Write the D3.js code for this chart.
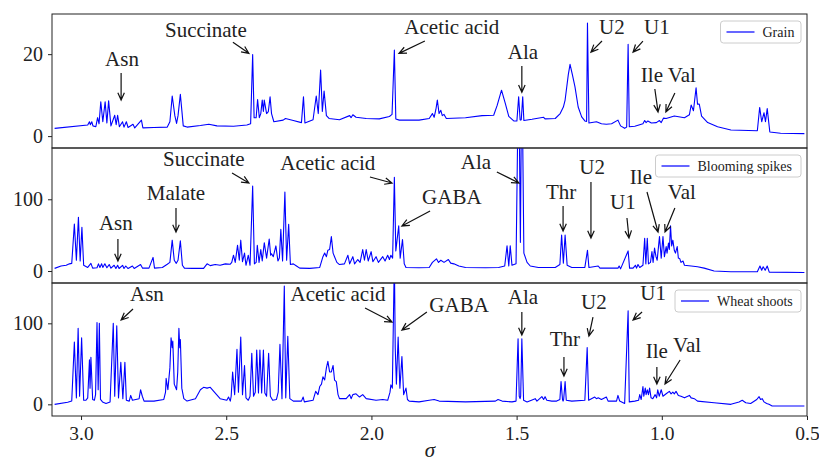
<!DOCTYPE html>
<html>
<head>
<meta charset="utf-8">
<title>NMR spectra</title>
<script src="https://d3js.org/d3.v7.min.js"></script>
<style>
  body { margin: 0; background: #fff; }
  svg { font-family: "Liberation Serif", "DejaVu Serif", serif; }
  .spine { fill: none; stroke: #222; stroke-width: 1; }
  .tick text { font-size: 20px; fill: #222; }
  .xax .tick text { font-size: 19.5px; }
  .tick line { stroke: #222; }
  .spec { fill: none; stroke: #0000ff; stroke-width: 1.1; stroke-linejoin: round; }
  .ann text { font-size: 21px; fill: #222; }
  .ann path { fill: none; stroke: #111; stroke-width: 1.2; }
  .legend rect { fill: #fff; fill-opacity: 0.85; stroke: #ccc; }
  .legend text { font-size: 14px; fill: #222; }
</style>
</head>
<body>
<script>

// chemical shift range (reversed axis) and tick labels
var shiftRange = [3.1, 0.5];
var xTicks = [3.0, 2.5, 2.0, 1.5, 1.0, 0.5];

// series names
var seriesNames = ["Grain", "Blooming spikes", "Wheat shoots"];

// y ranges and ticks for each panel
var grainRange = [-2.9, 29.8], grainTicks = [0, 20];
var bloomRange = [-16.7, 171.5], bloomTicks = [0, 100];
var shootRange = [-14.4, 149.8], shootTicks = [0, 100];

// spectra, [shift, intensity]
var grain = [
  [3.091,1.9],[2.977,2.7],[2.971,3.5],[2.968,2.8],[2.963,3.5],[2.959,2.5],[2.949,2.3],[2.943,4.5],[2.938,3.0],
  [2.932,8.4],[2.925,3.5],[2.917,8.4],[2.911,3.2],[2.905,8.6],[2.897,2.5],[2.884,5.1],[2.879,2.8],[2.874,5.1],
  [2.868,2.3],[2.857,3.5],[2.852,2.2],[2.844,3.5],[2.838,2.1],[2.821,2.9],[2.815,2.0],[2.792,3.9],[2.787,2.0],
  [2.749,2.1],[2.703,2.2],[2.694,3.5],[2.686,9.8],[2.677,5],[2.671,3.1],[2.666,5],[2.658,10.2],[2.648,2.5],
  [2.635,2.2],[2.589,2.6],[2.560,2.9],[2.532,2.5],[2.475,2.4],[2.429,2.7],[2.416,3.0],[2.409,19.9],[2.404,4.5],
  [2.397,4.5],[2.392,8.9],[2.386,4.5],[2.381,5.5],[2.376,8.8],[2.372,6],[2.369,8.8],[2.361,5.5],[2.355,6],
  [2.349,9.6],[2.344,5.5],[2.336,3.5],[2.304,3.9],[2.296,4.3],[2.269,3.8],[2.241,3.3],[2.234,9.6],[2.229,3.2],
  [2.201,4.0],[2.190,9.8],[2.183,5.5],[2.175,16.1],[2.169,6],[2.163,11],[2.155,5],[2.146,4.3],[2.110,4.0],
  [2.075,5.0],[2.070,4.5],[2.064,5.2],[2.053,4.6],[2.018,4.3],[1.973,4.2],[1.938,4.8],[1.929,5.3],[1.921,21],
  [1.916,4.2],[1.904,3.9],[1.836,3.9],[1.801,4.3],[1.790,5.5],[1.784,4.6],[1.778,6.5],[1.773,8.8],[1.767,5.5],
  [1.761,6.3],[1.756,5],[1.750,5.3],[1.742,4.3],[1.676,4.5],[1.619,5.0],[1.579,5.1],[1.567,7.5],[1.552,11.2],
  [1.539,8.0],[1.527,4.8],[1.510,3.7],[1.499,3.7],[1.493,9.6],[1.488,4],[1.486,3.9],[1.484,4],[1.479,9.6],
  [1.475,3.8],[1.447,4.1],[1.407,4.6],[1.402,4.2],[1.367,4.3],[1.350,5.5],[1.339,7.1],[1.333,8.8],[1.322,15],
  [1.316,17.5],[1.308,15],[1.299,12],[1.288,7.1],[1.276,4.7],[1.265,3.7],[1.259,3.6],[1.256,27.6],[1.251,3.2],
  [1.225,3.5],[1.208,3.0],[1.191,2.9],[1.173,3.0],[1.151,3.9],[1.142,2.5],[1.128,1.9],[1.121,2.2],[1.116,22.4],
  [1.112,2.3],[1.093,2.4],[1.065,3.0],[1.059,3.8],[1.054,3.3],[1.048,3.7],[1.036,3.2],[1.019,3.3],[1.008,3.8],
  [1.002,3.3],[0.994,4.4],[0.985,4.3],[0.957,4.9],[0.922,4.5],[0.905,5.2],[0.899,7.6],[0.891,6.2],[0.882,11.8],
  [0.877,7.8],[0.871,7.8],[0.863,4.9],[0.842,3.3],[0.808,2.3],[0.762,1.5],[0.671,1.3],[0.663,7.0],[0.656,3.5],
  [0.648,5.7],[0.643,3.5],[0.637,6.7],[0.628,1.0],[0.591,0.7],[0.509,0.6]
];

var blooming = [
  [3.091,3.7],[3.069,7],[3.051,8],[3.040,10],[3.032,10.7],[3.023,65.5],[3.016,15],[3.009,74.8],[3.003,14],
  [2.997,60.9],[2.991,8],[2.977,5],[2.966,10.7],[2.960,4],[2.945,4.5],[2.940,10],[2.935,5],[2.929,10],[2.925,5],
  [2.918,10],[2.911,4.5],[2.903,9],[2.897,4],[2.886,8],[2.880,3.5],[2.874,8],[2.869,3.5],[2.857,8],[2.852,3.5],
  [2.846,7],[2.838,3.5],[2.823,7],[2.817,3.5],[2.795,9],[2.788,4],[2.766,4],[2.752,19],[2.747,4],[2.720,5],
  [2.703,9.5],[2.694,12],[2.686,43],[2.679,15],[2.672,10.7],[2.666,15],[2.658,42],[2.651,8],[2.644,4],[2.618,3.7],
  [2.578,3.7],[2.566,10],[2.555,7.5],[2.538,9],[2.521,8],[2.503,10],[2.486,9.5],[2.481,12],[2.475,22],[2.469,12],
  [2.461,36],[2.455,15],[2.450,43],[2.444,13],[2.437,25],[2.432,8],[2.424,22],[2.418,8],[2.409,118.5],[2.403,10],
  [2.397,12],[2.393,36],[2.387,12],[2.381,30],[2.376,14],[2.369,39.5],[2.361,18],[2.352,44.6],[2.347,22],
  [2.344,24],[2.338,20],[2.329,35],[2.322,14],[2.317,18],[2.312,58],[2.306,14],[2.298,110],[2.292,15],[2.285,65],
  [2.279,9],[2.269,10],[2.258,7],[2.247,4],[2.212,3.7],[2.178,5],[2.167,20],[2.161,25],[2.155,20],[2.150,29],
  [2.144,30],[2.138,48],[2.132,25],[2.127,20],[2.119,12],[2.110,9],[2.093,10],[2.081,22],[2.075,10],[2.064,20],
  [2.058,10],[2.047,16],[2.039,12],[2.030,30],[2.024,15],[2.018,30],[2.011,14],[2.001,27],[1.995,13],[1.984,20],
  [1.976,12],[1.961,20],[1.953,14],[1.944,22],[1.938,16],[1.933,22],[1.927,18],[1.921,130.6],[1.916,28],
  [1.906,63],[1.901,18],[1.893,44],[1.887,10],[1.881,5],[1.836,4.6],[1.801,5],[1.790,12],[1.776,17],[1.769,12],
  [1.761,15],[1.750,12],[1.735,16],[1.727,11],[1.716,10],[1.699,7],[1.676,5],[1.607,4.5],[1.562,5],[1.541,7],
  [1.533,35],[1.527,7],[1.522,35],[1.516,8],[1.502,10],[1.493,300],[1.487,40],[1.482,300],[1.475,25],[1.464,12],
  [1.453,7],[1.425,5],[1.367,5],[1.351,9],[1.345,50],[1.339,11],[1.333,50],[1.326,8],[1.310,5],[1.265,5],
  [1.256,29],[1.251,5],[1.219,7],[1.213,4],[1.151,4],[1.147,7],[1.142,3],[1.116,28],[1.111,4],[1.099,4],
  [1.091,8],[1.087,4],[1.082,9],[1.076,5],[1.065,8],[1.059,45.6],[1.055,10],[1.050,45.6],[1.046,10],[1.039,12],
  [1.034,27],[1.030,12],[1.025,32],[1.020,20],[1.016,15],[1.008,48],[1.002,18],[0.996,48],[0.991,20],[0.985,34],
  [0.982,25],[0.977,39],[0.974,30],[0.970,63],[0.966,35],[0.962,43],[0.957,29],[0.953,25],[0.947,34],[0.943,18],
  [0.938,17],[0.934,12],[0.927,14],[0.922,8],[0.899,7],[0.877,6],[0.854,4],[0.820,0],[0.762,-1],[0.671,-1],
  [0.662,7],[0.656,1],[0.651,6],[0.644,1],[0.637,7],[0.630,-1.5],[0.509,-2]
];

var shoots = [
  [3.091,0],[3.046,2.5],[3.032,4],[3.023,77],[3.016,8],[3.010,94],[3.005,10],[2.998,82],[2.991,5],[2.983,5],
  [2.977,8],[2.971,55],[2.969,20],[2.966,58],[2.960,6],[2.954,5],[2.950,12],[2.945,101],[2.941,18],[2.937,100],
  [2.933,6],[2.926,3],[2.914,1],[2.900,3],[2.889,100],[2.884,10],[2.877,97],[2.871,8],[2.863,52],[2.856,7],
  [2.849,52],[2.844,5],[2.834,4],[2.829,11],[2.823,5],[2.800,7],[2.795,18],[2.789,10],[2.783,4],[2.749,4],
  [2.715,6],[2.709,15],[2.707,32],[2.701,18],[2.694,45],[2.690,82],[2.686,70],[2.684,78],[2.679,25],[2.671,18],
  [2.667,40],[2.663,94],[2.660,70],[2.658,80],[2.653,20],[2.646,7],[2.635,4],[2.606,7],[2.589,18],[2.578,21],
  [2.566,20],[2.555,21],[2.543,16],[2.521,7],[2.498,5],[2.492,9],[2.486,4],[2.483,10],[2.478,40],[2.471,12],
  [2.463,68],[2.458,15],[2.450,83],[2.444,12],[2.437,48],[2.432,8],[2.424,5],[2.418,10],[2.412,63],[2.406,10],
  [2.400,15],[2.395,67],[2.389,14],[2.384,67],[2.378,14],[2.372,67],[2.367,14],[2.361,10],[2.354,63],[2.348,10],
  [2.340,5],[2.327,6],[2.321,15],[2.315,74],[2.308,7],[2.300,146],[2.295,8],[2.288,84],[2.281,7],[2.269,4],
  [2.241,4],[2.235,9],[2.231,3],[2.201,5],[2.192,16],[2.184,12],[2.178,22],[2.172,25],[2.167,34],[2.161,30],
  [2.155,45],[2.150,53],[2.144,40],[2.138,40],[2.132,48],[2.127,30],[2.121,28],[2.115,12],[2.110,7],[2.087,7],
  [2.075,12],[2.070,7],[2.064,12],[2.053,13],[2.041,9],[2.030,12],[2.018,7],[1.984,5],[1.961,6],[1.944,5],
  [1.936,15],[1.933,24],[1.928,20],[1.921,180],[1.918,70],[1.914,25],[1.908,83],[1.902,20],[1.895,59],
  [1.889,12],[1.881,20],[1.876,6],[1.870,4],[1.836,3],[1.801,5],[1.784,6],[1.767,4],[1.676,3],[1.573,4],
  [1.564,6],[1.550,4],[1.516,3],[1.502,4],[1.495,81],[1.491,10],[1.488,7],[1.486,10],[1.482,81],[1.476,5],
  [1.464,3],[1.436,7],[1.430,4],[1.413,9.5],[1.407,6],[1.402,9.5],[1.396,5],[1.379,4],[1.362,4],[1.351,6],
  [1.347,28],[1.342,6],[1.340,4],[1.338,6],[1.333,28],[1.329,5],[1.310,4],[1.265,5],[1.257,70],[1.252,5],
  [1.231,9],[1.225,7],[1.219,8],[1.208,6],[1.191,9],[1.185,4],[1.156,4],[1.151,11],[1.145,4],[1.128,1],
  [1.116,115.6],[1.112,3],[1.093,4],[1.080,5],[1.076,12],[1.071,6],[1.065,22],[1.062,10],[1.057,20],[1.054,12],
  [1.050,18],[1.046,12],[1.042,20],[1.037,8],[1.031,7],[1.023,12],[1.018,8],[1.014,18],[1.009,10],[1.002,18],
  [0.996,10],[0.985,13],[0.974,16],[0.968,13],[0.962,15],[0.957,13],[0.951,16],[0.943,11],[0.934,10],[0.922,8],
  [0.905,11],[0.899,8],[0.888,7],[0.877,4],[0.820,2],[0.762,0],[0.734,3],[0.723,5],[0.711,2],[0.694,1],
  [0.673,6],[0.665,9.5],[0.660,6],[0.654,7],[0.648,3],[0.639,1],[0.631,0],[0.620,-2],[0.509,-2]
];

// annotations: label, text centre [shift, value], arrow start, arrow tip
var grainNotes = [
  ["Asn", [2.859, 19.0], [2.862, 15.4], [2.862, 8.8]],
  ["Succinate", [2.570, 26.1], [2.477, 22.9], [2.422, 20.2]],
  ["Acetic acid", [1.723, 26.8], [1.816, 23.2], [1.905, 20.2]],
  ["Ala", [1.478, 20.5], [1.482, 17.1], [1.482, 10.7]],
  ["U2", [1.172, 26.6], [1.206, 23.2], [1.244, 20.5]],
  ["U1", [1.017, 26.8], [1.065, 23.2], [1.099, 20.5]],
  ["Ile", [1.034, 14.9], [1.024, 11.5], [1.013, 5.9]],
  ["Val", [0.931, 14.9], [0.955, 10.5], [0.986, 5.9]]
];
var bloomNotes = [
  ["Asn", [2.880, 67.0], [2.873, 44.6], [2.873, 13.9]],
  ["Malate", [2.673, 108.8], [2.673, 87.9], [2.673, 54.4]],
  ["Succinate", [2.577, 156.2], [2.480, 136.7], [2.422, 122.7]],
  ["Acetic acid", [2.150, 150.6], [2.005, 131.1], [1.929, 122.7]],
  ["GABA", [1.723, 103.2], [1.798, 83.7], [1.895, 62.8]],
  ["Ala", [1.640, 152.0], [1.568, 138.1], [1.492, 122.7]],
  ["Thr", [1.347, 110.2], [1.340, 90.7], [1.340, 55.8]],
  ["U2", [1.240, 145.0], [1.244, 124.1], [1.244, 46.0]],
  ["U1", [1.134, 96.2], [1.120, 73.9], [1.113, 46.0]],
  ["Ile", [1.072, 131.1], [1.051, 110.2], [1.013, 54.4]],
  ["Val", [0.931, 110.2], [0.955, 87.9], [0.989, 54.4]]
];
var shootNotes = [
  ["Asn", [2.773, 136.2], [2.821, 117.7], [2.862, 104.1]],
  ["Acetic acid", [2.115, 136.2], [2.022, 118.9], [1.929, 101.6]],
  ["GABA", [1.698, 122.6], [1.809, 114.0], [1.895, 91.7]],
  ["Ala", [1.478, 132.5], [1.482, 114.0], [1.482, 85.6]],
  ["Thr", [1.334, 80.6], [1.337, 58.4], [1.337, 34.9]],
  ["U2", [1.234, 126.3], [1.237, 107.8], [1.251, 84.3]],
  ["U1", [1.030, 137.4], [1.068, 114.0], [1.099, 104.1]],
  ["Ile", [1.017, 65.8], [1.017, 46.0], [1.017, 25.1]],
  ["Val", [0.913, 73.2], [0.937, 54.7], [0.989, 25.1]]
];

var panels = [
  { name: seriesNames[0], data: grain, range: grainRange, ticks: grainTicks, notes: grainNotes },
  { name: seriesNames[1], data: blooming, range: bloomRange, ticks: bloomTicks, notes: bloomNotes },
  { name: seriesNames[2], data: shoots, range: shootRange, ticks: shootTicks, notes: shootNotes }
];

var W = 819, H = 463;
var left = 52, right = 807;
var tops = [14, 148, 283, 416];

var svg = d3.select("body").append("svg")
  .attr("width", W).attr("height", H);

var x = d3.scaleLinear().domain(shiftRange).range([left, right]);

panels.forEach(function(p, i) {
  var y0 = tops[i], y1 = tops[i + 1];
  var y = d3.scaleLinear().domain(p.range).range([y1, y0]);
  var g = svg.append("g");

  g.append("clipPath").attr("id", "clip" + i)
    .append("rect").attr("x", left).attr("y", y0)
    .attr("width", right - left).attr("height", y1 - y0);

  var line = d3.line()
    .x(function(d) { return x(d[0]); })
    .y(function(d) { return y(d[1]); });

  g.append("path").datum(p.data)
    .attr("class", "spec")
    .attr("clip-path", "url(#clip" + i + ")")
    .attr("d", line);

  // y axis
  g.append("g")
    .attr("transform", "translate(" + left + ",0)")
    .call(d3.axisLeft(y).tickValues(p.ticks).tickSize(4).tickPadding(5).tickFormat(d3.format("d")))
    .attr("font-family", null).attr("font-size", null)
    .call(function(a) { a.select(".domain").remove(); });

  // annotations
  p.notes.forEach(function(n) {
    var a = g.append("g").attr("class", "ann");
    a.append("text")
      .attr("x", x(n[1][0])).attr("y", y(n[1][1]))
      .attr("dy", "0.35em").attr("text-anchor", "middle")
      .text(n[0]);
    var sx = x(n[2][0]), sy = y(n[2][1]), ex = x(n[3][0]), ey = y(n[3][1]);
    var ang = Math.atan2(ey - sy, ex - sx), hl = 8, ha = 0.42;
    a.append("path").attr("d",
      "M" + sx + "," + sy + "L" + ex + "," + ey +
      "M" + (ex - hl * Math.cos(ang - ha)) + "," + (ey - hl * Math.sin(ang - ha)) +
      "L" + ex + "," + ey +
      "L" + (ex - hl * Math.cos(ang + ha)) + "," + (ey - hl * Math.sin(ang + ha)));
  });

  // legend
  var lg = g.append("g").attr("class", "legend");
  var lw = p.name.length * 6.5 + 48;
  var lx = right - 6 - lw, ly = y0 + 7;
  lg.append("rect").attr("x", lx).attr("y", ly).attr("width", lw).attr("height", 22).attr("rx", 3);
  lg.append("line").attr("x1", lx + 6).attr("x2", lx + 34)
    .attr("y1", ly + 11).attr("y2", ly + 11)
    .attr("stroke", "#0000ff").attr("stroke-width", 1.2);
  lg.append("text").attr("x", lx + 42).attr("y", ly + 11).attr("dy", "0.35em").text(p.name);

  // frame
  g.append("rect").attr("class", "spine")
    .attr("x", left).attr("y", y0).attr("width", right - left).attr("height", y1 - y0);

  if (i === panels.length - 1) {
    svg.append("g").attr("class", "xax")
      .attr("transform", "translate(0," + y1 + ")")
      .call(d3.axisBottom(x).tickValues(xTicks).tickSize(4).tickPadding(6).tickFormat(d3.format(".1f")))
      .attr("font-family", null).attr("font-size", null)
      .call(function(a) { a.select(".domain").remove(); });
  }
});

svg.append("text")
  .attr("x", 430).attr("y", 457)
  .attr("text-anchor", "middle")
  .attr("font-size", 21).attr("font-style", "italic").attr("fill", "#222")
  .text("σ");

</script>
</body>
</html>
